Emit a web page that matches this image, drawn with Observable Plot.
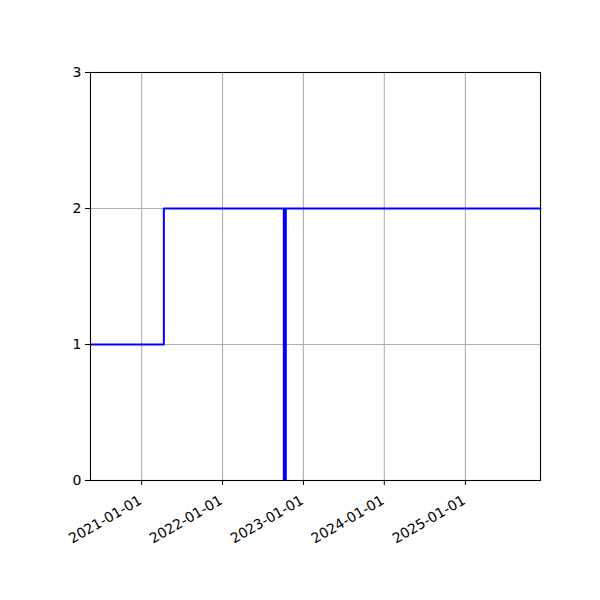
<!DOCTYPE html>
<html>
<head>
<meta charset="utf-8">
<script src="https://cdn.jsdelivr.net/npm/d3@7"></script>
<script src="https://cdn.jsdelivr.net/npm/@observablehq/plot@0.6"></script>
<style>
  body { margin: 0; background: #fff; }
  #chart { width: 600px; height: 600px; }
</style>
</head>
<body>
<div id="chart"></div>
<script>
// Step series
const stepDates = ["2020-05-15", "2021-04-11", "2025-12-06"];
const stepValues = [1, 2, 2];
// Vertical marker line
const markerDate = "2022-10-09";
const markerValue = 2;
// Axis
const xDomain = ["2020-05-15", "2025-12-06"];
const xTicks = ["2021-01-01", "2022-01-01", "2023-01-01", "2024-01-01", "2025-01-01"];
const yTicks = [0, 1, 2, 3];

const parse = d3.utcParse("%Y-%m-%d");
const fmt = d3.utcFormat("%Y-%m-%d");
const stepData = stepDates.map((d, i) => ({date: parse(d), value: stepValues[i]}));
const markerData = [{date: parse(markerDate), value: markerValue}];
const tickDates = xTicks.map(parse);

const chart = Plot.plot({
  width: 600,
  height: 600,
  marginLeft: 90,
  marginRight: 60,
  marginTop: 72,
  marginBottom: 120,
  style: {fontFamily: "DejaVu Sans", fontSize: "14px", color: "black", background: "white"},
  x: {type: "utc", domain: xDomain.map(parse)},
  y: {domain: [0, 3]},
  marks: [
    Plot.gridX(tickDates, {stroke: "#b0b0b0", strokeOpacity: 1, strokeWidth: 1.1}),
    Plot.gridY(yTicks, {stroke: "#b0b0b0", strokeOpacity: 1, strokeWidth: 1.1}),
    Plot.lineY(stepData, {x: "date", y: "value", curve: "step-after", stroke: "blue", strokeWidth: 2}),
    Plot.ruleX(markerData, {x: "date", y1: 0, y2: "value", stroke: "blue", strokeWidth: 4}),
    Plot.frame({stroke: "black", strokeWidth: 1.1}),
    Plot.axisX(tickDates, {tickFormat: () => "", tickSize: 5, label: null, stroke: "black"}),
    Plot.text(tickDates, {x: d => d, frameAnchor: "bottom", text: d => fmt(d), rotate: -30, textAnchor: "end", lineAnchor: "top", dx: -4, dy: 14, fontSize: 14, fill: "black"}),
    Plot.axisY(yTicks, {tickSize: 5, tickPadding: 4, tickFormat: "d", label: null, fontSize: 14})
  ]
});
document.getElementById("chart").appendChild(chart);
</script>
</body>
</html>
